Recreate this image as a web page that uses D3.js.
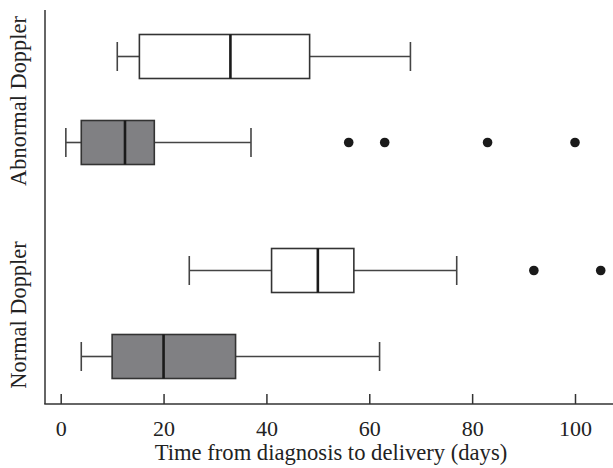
<!DOCTYPE html>
<html>
<head>
<meta charset="utf-8">
<script src="https://cdn.jsdelivr.net/npm/d3@7"></script>
<style>
  html, body { margin: 0; padding: 0; background: #fff; }
  svg text { font-family: "Liberation Serif", "Times New Roman", serif; fill: #222; }
</style>
</head>
<body>
<div id="chart"></div>
<script>
// ---------------------------- DATA ----------------------------//
const groups = ["Abnormal Doppler", "Normal Doppler"];
const series = ["open", "shaded"];
// one value per box, in order: group x series
const lowWhisker = [11, 1, 25, 4];
const q1 = [15.3, 4, 41, 10];
const median = [33, 12.5, 50, 20];
const q3 = [48.4, 18.2, 57, 34];
const highWhisker = [68, 37, 77, 62];
const outliers = [[], [56, 63, 83, 100], [92, 105], []];
const xTicks = [0, 20, 40, 60, 80, 100];
const xTitle = "Time from diagnosis to delivery (days)";

const boxes = [];
groups.forEach((g, gi) => {
  series.forEach((s, si) => {
    const i = gi * 2 + si;
    boxes.push({
      group: g, series: s,
      lo: lowWhisker[i], q1: q1[i], med: median[i], q3: q3[i], hi: highWhisker[i],
      out: outliers[i]
    });
  });
});

// --------------------------- LAYOUT ---------------------------//
const width = 613;
const height = 468;
const axisX = 45;
const axisY = 404;
const plotTop = 10;
const boxH = 44;
const capH = 29;

const svg = d3.select("#chart").append("svg")
  .attr("width", width)
  .attr("height", height);

// ---------------------------- SCALES ---------------------------//
const x = d3.scaleLinear().domain([0, 100]).range([60.7, 575]);
const yGroup = d3.scalePoint().domain(groups).range([99.5, 313.5]);
const yInner = d3.scalePoint().domain(series).range([-43, 43]);
const fill = d3.scaleOrdinal().domain(series).range(["#ffffff", "#808083"]);
const yc = d => yGroup(d.group) + yInner(d.series);

// ----------------------------- AXES ----------------------------//
svg.append("line")
  .attr("x1", axisX).attr("x2", axisX)
  .attr("y1", plotTop).attr("y2", axisY)
  .attr("stroke", "#333").attr("stroke-width", 1.5);
svg.append("line")
  .attr("x1", axisX - 0.75).attr("x2", width)
  .attr("y1", axisY).attr("y2", axisY)
  .attr("stroke", "#333").attr("stroke-width", 1.5);

const xAxis = d3.axisBottom(x)
  .tickValues(xTicks)
  .tickSizeInner(-10)
  .tickSizeOuter(0)
  .tickPadding(16);

const gx = svg.append("g")
  .attr("transform", "translate(0," + axisY + ")")
  .call(xAxis);
gx.select(".domain").remove();
gx.selectAll(".tick line").attr("stroke", "#333").attr("stroke-width", 1.5);
gx.selectAll(".tick text")
  .attr("font-size", 22)
  .attr("font-family", "Liberation Serif, serif")
  .attr("fill", "#222");

svg.append("text")
  .attr("x", (155 + 507) / 2)
  .attr("y", 460)
  .attr("text-anchor", "middle")
  .attr("font-size", 22.6)
  .text(xTitle);

svg.selectAll(".ylab")
  .data(groups)
  .enter().append("text")
  .attr("class", "ylab")
  .attr("text-anchor", "middle")
  .attr("font-size", 22.4)
  .attr("transform", d => "translate(26," + (yGroup(d) + 1.5) + ") rotate(-90)")
  .text(d => d);

// ---------------------------- BOXES ----------------------------//
const b = svg.selectAll(".box").data(boxes).enter().append("g").attr("class", "box");

b.append("line")
  .attr("x1", d => x(d.lo)).attr("x2", d => x(d.q1))
  .attr("y1", yc).attr("y2", yc)
  .attr("stroke", "#444").attr("stroke-width", 1.6);
b.append("line")
  .attr("x1", d => x(d.q3)).attr("x2", d => x(d.hi))
  .attr("y1", yc).attr("y2", yc)
  .attr("stroke", "#444").attr("stroke-width", 1.6);
b.append("line")
  .attr("x1", d => x(d.lo)).attr("x2", d => x(d.lo))
  .attr("y1", d => yc(d) - capH / 2).attr("y2", d => yc(d) + capH / 2)
  .attr("stroke", "#444").attr("stroke-width", 1.6);
b.append("line")
  .attr("x1", d => x(d.hi)).attr("x2", d => x(d.hi))
  .attr("y1", d => yc(d) - capH / 2).attr("y2", d => yc(d) + capH / 2)
  .attr("stroke", "#444").attr("stroke-width", 1.6);

b.append("rect")
  .attr("x", d => x(d.q1))
  .attr("y", d => yc(d) - boxH / 2)
  .attr("width", d => x(d.q3) - x(d.q1))
  .attr("height", boxH)
  .attr("fill", d => fill(d.series))
  .attr("stroke", "#333").attr("stroke-width", 1.6);

b.append("line")
  .attr("x1", d => x(d.med)).attr("x2", d => x(d.med))
  .attr("y1", d => yc(d) - boxH / 2).attr("y2", d => yc(d) + boxH / 2)
  .attr("stroke", "#1a1a1a").attr("stroke-width", 2.6);

b.selectAll(".out")
  .data(d => d.out.map(v => ({ v: v, y: yc(d) })))
  .enter().append("circle")
  .attr("class", "out")
  .attr("cx", d => x(d.v))
  .attr("cy", d => d.y)
  .attr("r", 4.8)
  .attr("fill", "#1a1a1a");
</script>
</body>
</html>
